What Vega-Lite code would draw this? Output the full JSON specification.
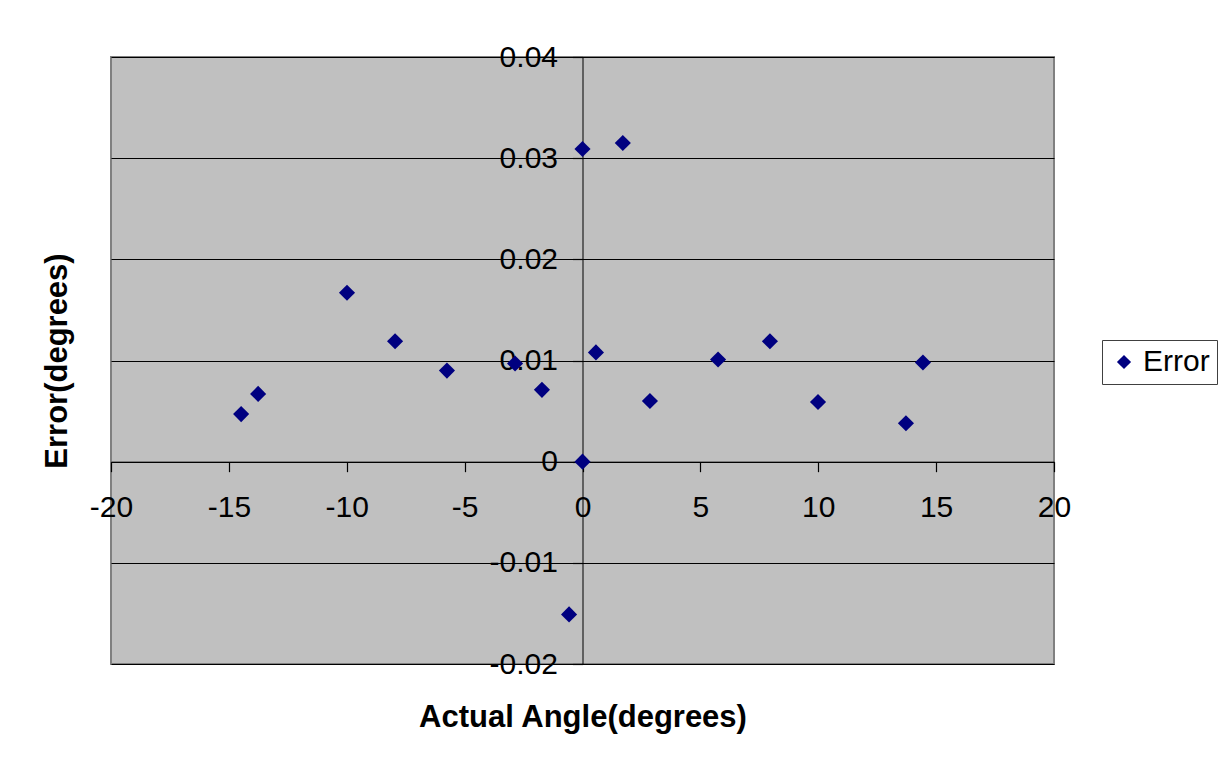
{
  "$schema": "https://vega.github.io/schema/vega-lite/v6.json",
  "width": 943,
  "height": 607,
  "autosize": "none",
  "padding": {"left": 111, "top": 57, "right": 173, "bottom": 100},
  "background": "white",
  "config": {
    "view": {"fill": "#C0C0C0", "stroke": "#808080", "strokeWidth": 2},
    "font": "Liberation Sans"
  },
  "data": {
    "values": [
      {"angle": -14.48, "error": 0.0047},
      {"angle": -13.76, "error": 0.0067},
      {"angle": -9.99, "error": 0.0167},
      {"angle": -7.95, "error": 0.0119},
      {"angle": -5.75, "error": 0.0090},
      {"angle": -2.86, "error": 0.0097},
      {"angle": -1.72, "error": 0.0071},
      {"angle": -0.57, "error": -0.0151},
      {"angle": 0, "error": 0.0309},
      {"angle": 0, "error": 0},
      {"angle": 0.57, "error": 0.0108},
      {"angle": 1.71, "error": 0.0315},
      {"angle": 2.86, "error": 0.0060},
      {"angle": 5.75, "error": 0.0101},
      {"angle": 7.95, "error": 0.0119},
      {"angle": 9.99, "error": 0.0059},
      {"angle": 13.72, "error": 0.0038},
      {"angle": 14.44, "error": 0.0098}
    ]
  },
  "mark": {"type": "point", "shape": "diamond", "filled": true, "size": 260, "opacity": 1},
  "encoding": {
    "x": {
      "field": "angle",
      "type": "quantitative",
      "scale": {"domain": [-20, 20], "nice": false, "zero": false},
      "axis": {
        "values": [-20, -15, -10, -5, 0, 5, 10, 15, 20],
        "offset": -202.33,
        "grid": false,
        "ticks": true,
        "domainColor": "#000",
        "domainWidth": 1,
        "tickColor": "#000",
        "tickWidth": 1.2,
        "tickSize": 10,
        "labelFontSize": 30,
        "labelColor": "#000",
        "labelPadding": 21,
        "labelFlush": false,
        "labelOverlap": false,
        "labelExpr": "'' + datum.value",
        "title": "Actual Angle(degrees)",
        "titleFontSize": 31,
        "titleFontWeight": "bold",
        "titleColor": "#000",
        "titleY": 256,
        "titleBaseline": "middle"
      }
    },
    "y": {
      "field": "error",
      "type": "quantitative",
      "scale": {"domain": [-0.02, 0.04], "nice": false, "zero": false},
      "axis": {
        "values": [-0.02, -0.01, 0, 0.01, 0.02, 0.03, 0.04],
        "offset": -471.5,
        "grid": true,
        "ticks": true,
        "gridColor": "#000",
        "gridOpacity": 1,
        "domainColor": "#000",
        "domainWidth": 1,
        "tickColor": "#000",
        "tickWidth": 1.2,
        "tickSize": 10,
        "labelFontSize": 30,
        "labelColor": "#000",
        "labelPadding": 15,
        "labelFlush": false,
        "labelOverlap": false,
        "labelExpr": "'' + datum.value",
        "title": "Error(degrees)",
        "titleFontSize": 31,
        "titleFontWeight": "bold",
        "titleColor": "#000",
        "titleX": -525.5,
        "titleY": 303.5,
        "titleAngle": 270,
        "titleAlign": "center",
        "titleBaseline": "middle"
      }
    },
    "color": {
      "datum": "Error",
      "scale": {"range": ["#000080"]},
      "legend": {
        "title": null,
        "orient": "none",
        "legendX": 991,
        "legendY": 283,
        "strokeColor": "#404040",
        "padding": 7,
        "symbolType": "diamond",
        "symbolSize": 200,
        "symbolOpacity": 1,
        "labelFontSize": 30,
        "labelColor": "#000"
      }
    }
  }
}
